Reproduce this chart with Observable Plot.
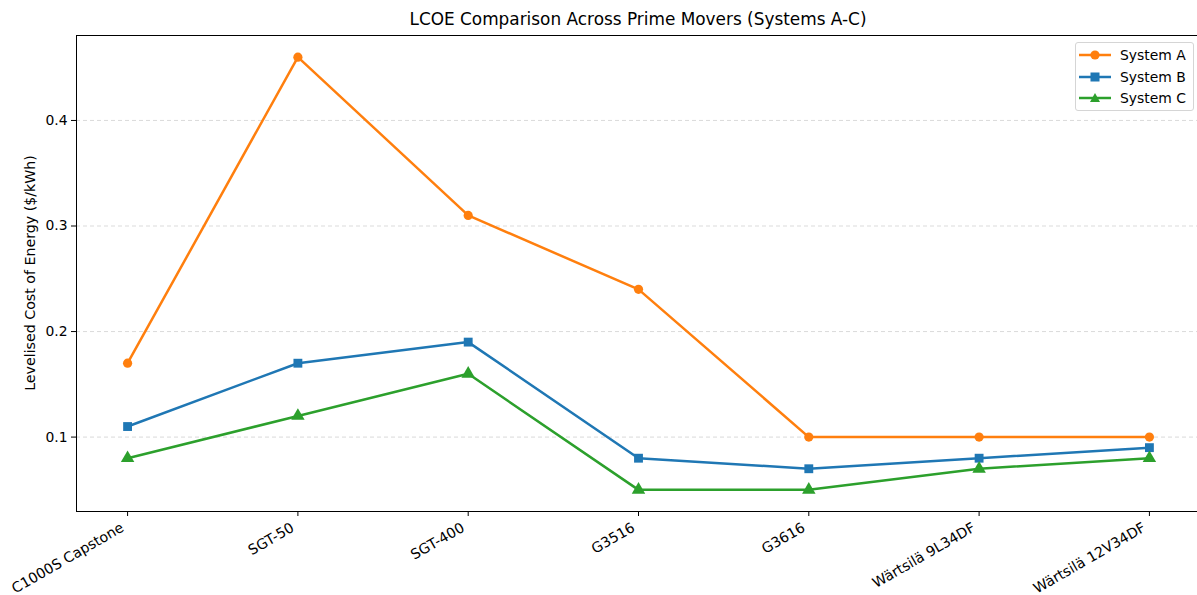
<!DOCTYPE html>
<html>
<head>
<meta charset="utf-8">
<script src="https://cdn.jsdelivr.net/npm/d3@7"></script>
<script src="https://cdn.jsdelivr.net/npm/@observablehq/plot@0.6"></script>
<style>
  body { margin: 0; background: #fff; font-family: "DejaVu Sans", sans-serif; overflow: hidden; }
  #wrap { position: relative; width: 1197px; height: 595px; overflow: hidden; }
  #chart { width: 1201px; }
  #chart svg { max-width: none !important; }
  #title { position: absolute; left: 76px; width: 1124px; top: 9px; text-align: center; font-size: 16.9px; color: #000; }
  #ylab { position: absolute; left: 30px; top: 273px; transform: translate(-50%, -50%) rotate(-90deg); white-space: nowrap; font-size: 14.2px; }
  #legend { position: absolute; left: 1075px; top: 42px; width: 117px; height: 67px; border: 1px solid #d5d5d5; border-radius: 3px; background: rgba(255,255,255,0.8); font-size: 13.9px; }
  .row { position: absolute; left: 0; height: 20px; display: flex; align-items: center; }
  .row svg { margin-left: 3px; }
  .row span { margin-left: 9px; }
</style>
</head>
<body>
<div id="wrap">
  <div id="chart"></div>
  <div id="title">LCOE Comparison Across Prime Movers (Systems A-C)</div>
  <div id="ylab">Levelised Cost of Energy ($/kWh)</div>
  <div id="legend"></div>
</div>
<script>
const categories = ["C1000S Capstone", "SGT-50", "SGT-400", "G3516", "G3616", "Wärtsilä 9L34DF", "Wärtsilä 12V34DF"];
const systemA = [0.17, 0.46, 0.31, 0.24, 0.10, 0.10, 0.10];
const systemB = [0.11, 0.17, 0.19, 0.08, 0.07, 0.08, 0.09];
const systemC = [0.08, 0.12, 0.16, 0.05, 0.05, 0.07, 0.08];
const seriesNames = ["System A", "System B", "System C"];
const seriesColors = ["#ff7f0e", "#1f77b4", "#2ca02c"];
const seriesSymbols = ["circle", "square", "triangle"];
const yTicks = [0.1, 0.2, 0.3, 0.4];

const seriesValues = [systemA, systemB, systemC];
const data = [];
seriesValues.forEach((vals, s) => vals.forEach((v, i) => data.push({cat: categories[i], value: v, series: seriesNames[s]})));

const marks = [
  Plot.gridY(yTicks, {stroke: "#b0b0b0", strokeOpacity: 0.6, strokeDasharray: "4,3", strokeWidth: 0.8}),
];
seriesNames.forEach((name, s) => {
  const d = data.filter(r => r.series === name);
  marks.push(Plot.line(d, {x: "cat", y: "value", stroke: seriesColors[s], strokeWidth: 2.5}));
  marks.push(Plot.dot(d, {x: "cat", y: "value", fill: seriesColors[s], stroke: "none", symbol: seriesSymbols[s], r: s === 0 ? 4.6 : 5}));
});
marks.push(Plot.axisY(yTicks, {tickFormat: d3.format(".1f"), tickSize: 5, label: null, fontSize: 13.9, tickPadding: 4}));
marks.push(Plot.axisX({tickSize: 5, label: null, tickFormat: () => ""}));
marks.push(Plot.axisX({tickRotate: -30, tickSize: 0, label: null, fontSize: 14.2, tickPadding: 9, dx: -5, dy: 6}));
marks.push(Plot.frame({stroke: "#000", strokeWidth: 1}));

const chart = Plot.plot({
  width: 1201,
  height: 595,
  marginLeft: 76,
  marginRight: 1,
  marginTop: 35,
  marginBottom: 84,
  style: {fontFamily: "DejaVu Sans, sans-serif", fontSize: "13.9px", color: "#000", background: "#fff", maxWidth: "none"},
  x: {type: "point", domain: categories, padding: 0.3, round: false},
  y: {domain: [0.0295, 0.4805]},
  marks
});
document.getElementById("chart").appendChild(chart);

// legend
const legend = document.getElementById("legend");
seriesNames.forEach((name, s) => {
  const row = document.createElement("div");
  row.className = "row";
  row.style.top = (2 + s * 21.5) + "px";
  const shape = seriesSymbols[s] === "circle" ? `<circle cx="16" cy="10" r="4.6" fill="${seriesColors[s]}"/>`
    : seriesSymbols[s] === "square" ? `<rect x="11.5" y="5.5" width="9" height="9" fill="${seriesColors[s]}"/>`
    : `<polygon points="16,5 21,14 11,14" fill="${seriesColors[s]}"/>`;
  row.innerHTML = `<svg width="32" height="20"><line x1="0" x2="32" y1="10" y2="10" stroke="${seriesColors[s]}" stroke-width="2.5"/>${shape}</svg><span>${name}</span>`;
  legend.appendChild(row);
});
</script>
</body>
</html>
